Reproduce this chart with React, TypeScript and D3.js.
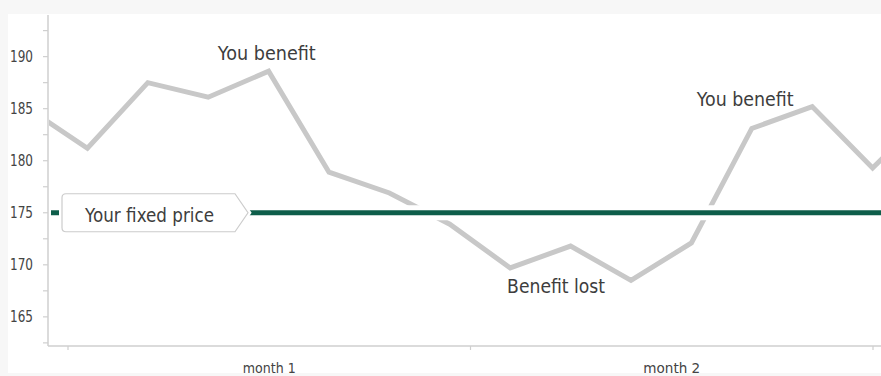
import React from "react";
import * as d3 from "d3";

const prices = [185.1, 181.2, 187.5, 186.1, 188.6, 178.9, 176.9, 173.9, 169.7, 171.8, 168.5, 172.1, 183.1, 185.2, 179.3, 185.0];
const fixedPrice = 175;
const months = ["month 1", "month 2"];
const yTicks = [165, 170, 175, 180, 185, 190];
const yMinorTicks = [162.5, 167.5, 172.5, 177.5, 182.5, 187.5, 192.5];
const annotationTexts = ["You benefit", "You benefit", "Benefit lost"];
const annotationIdx = [3.97, 11.89, 8.76];
const annotationVal = [189.7, 185.3, 167.3];
const fixedLabel = "Your fixed price";

const W = 881;
const H = 376;
const FONT = "'DejaVu Sans', 'Open Sans', sans-serif";

export default function App() {
  const axisX = 48;
  const axisY = 346;
  const x = d3.scaleLinear().domain([0, 15]).range([27, 27 + 15 * 60.4]);
  const y = d3.scaleLinear().domain([162.2, 194]).range([axisY, 15]);
  const xm = d3.scaleBand().domain(months).range([68, 873]);
  const line = d3
    .line<number>()
    .x((_, i) => x(i))
    .y((d) => y(d));
  const yf = y(fixedPrice);
  const boxL = 62, boxR = 235, tip = 248, bh = 19;
  const boxPath = `M${boxL + 4},${yf - bh} L${boxR},${yf - bh} L${tip},${yf} L${boxR},${yf + bh} L${boxL + 4},${yf + bh} Q${boxL},${yf + bh} ${boxL},${yf + bh - 4} L${boxL},${yf - bh + 4} Q${boxL},${yf - bh} ${boxL + 4},${yf - bh} Z`;
  const annWidths = [98, 97, 98];
  const monthEdges = [...months.map((m) => xm(m) as number), 873];

  return (
    <svg width={W} height={H} style={{ position: "absolute", left: 0, top: 0 }} fontFamily={FONT}>
      <defs>
        <clipPath id="plot">
          <rect x={axisX + 1} y={0} width={W - axisX} height={axisY} />
        </clipPath>
      </defs>
      <rect x={0} y={0} width={W} height={H} fill="#f7f7f7" />
      <rect x={8} y={14} width={W - 8} height={359} fill="#ffffff" />
      {/* axes */}
      <line x1={axisX} x2={axisX} y1={15} y2={axisY} stroke="#cfcfcf" strokeWidth={1.5} />
      <line x1={axisX} x2={W} y1={axisY} y2={axisY} stroke="#cfcfcf" strokeWidth={1.5} />
      {[...yTicks, ...yMinorTicks].map((t) => (
        <line key={"t" + t} x1={axisX - 5} x2={axisX} y1={y(t)} y2={y(t)} stroke="#cfcfcf" strokeWidth={1.2} />
      ))}
      {yTicks.map((t) => (
        <text key={"l" + t} x={33} y={y(t) + 5.5} textAnchor="end" fontSize={15} fill="#444" textLength={23} lengthAdjust="spacingAndGlyphs">
          {t}
        </text>
      ))}
      {monthEdges.map((e, i) => (
        <line key={"mt" + i} x1={e} x2={e} y1={axisY} y2={axisY + 4} stroke="#cfcfcf" strokeWidth={1.2} />
      ))}
      {months.map((m, i) => (
        <text key={m} x={(xm(m) as number) + xm.bandwidth() / 2} y={373} textAnchor="middle" fontSize={14} fill="#444" textLength={i === 0 ? 53 : 57} lengthAdjust="spacingAndGlyphs">
          {m}
        </text>
      ))}
      {/* price line */}
      <g clipPath="url(#plot)">
        <path d={line(prices) || ""} fill="none" stroke="#c8c8c8" strokeWidth={5} strokeLinejoin="miter" />
      </g>
      {/* fixed price line with halo */}
      <line x1={51} x2={W} y1={yf} y2={yf} stroke="#ffffff" strokeWidth={15} />
      <line x1={51} x2={W} y1={yf} y2={yf} stroke="#0e5e4a" strokeWidth={5} />
      <path d={boxPath} fill="#ffffff" stroke="#ffffff" strokeWidth={6} />
      <path d={boxPath} fill="#ffffff" stroke="#cccccc" strokeWidth={1.2} />
      <text x={(boxL + boxR) / 2 + 1} y={yf + 9} textAnchor="middle" fontSize={19} fill="#3d3d3d" textLength={129} lengthAdjust="spacingAndGlyphs">
        {fixedLabel}
      </text>
      {annotationTexts.map((t, i) => (
        <text key={"a" + i} x={x(annotationIdx[i])} y={y(annotationVal[i])} textAnchor="middle" fontSize={19} fill="#3d3d3d" textLength={annWidths[i]} lengthAdjust="spacingAndGlyphs">
          {t}
        </text>
      ))}
    </svg>
  );
}
